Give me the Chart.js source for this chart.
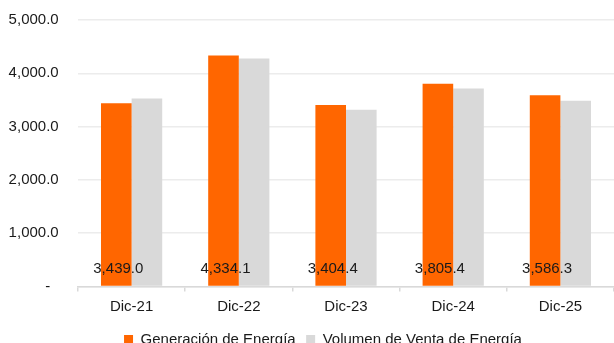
<!DOCTYPE html>
<html>
<head>
<meta charset="utf-8">
<script src="https://cdn.jsdelivr.net/npm/chart.js@4/dist/chart.umd.min.js"></script>
<style>
  html, body { margin: 0; padding: 0; background: #fff; overflow: hidden; }
  .clip { width: 614px; height: 343px; overflow: hidden; }
  .wrap { width: 614px; height: 357px; position: relative; }
</style>
</head>
<body>
<div class="clip"><div class="wrap"><canvas id="chart"></canvas></div></div>
<script>
const categories = ["Dic-21", "Dic-22", "Dic-23", "Dic-24", "Dic-25"]
const generacion = [3439.0, 4334.1, 3404.4, 3805.4, 3586.3]
const ventas = [3527, 4278, 3315, 3715, 3484]

const fmt = (v) => v.toLocaleString("en-US", { minimumFractionDigits: 1, maximumFractionDigits: 1 })

// values of the first series written near the bottom of its bars
const baseLabels = {
	id: "baseLabels",
	afterDatasetsDraw(chart) {
		const c = chart.ctx
		const meta = chart.getDatasetMeta(0)
		c.save()
		c.font = "15px 'Liberation Sans', Arial, sans-serif"
		c.fillStyle = "#1a1a1a"
		c.textAlign = "center"
		c.textBaseline = "middle"
		meta.data.forEach((bar, i) => {
			c.fillText(fmt(generacion[i]), bar.x + 2, bar.base - 17)
		})
		c.restore()
	},
}

// legend sits a bit right of the canvas centre in the original
const legendShift = {
	id: "legendShift",
	afterLayout(chart) {
		chart.legend.left += 13
		chart.legend.right += 13
	},
}

Chart.defaults.font.family = "'Liberation Sans', Arial, sans-serif"
Chart.defaults.font.size = 15
Chart.defaults.color = "#1a1a1a"

new Chart(document.getElementById("chart"), {
	type: "bar",
	data: {
		labels: categories,
		datasets: [
			{
				label: "Generación de Energía",
				data: generacion,
				backgroundColor: "#ff6600",
				categoryPercentage: 0.571,
				barPercentage: 1,
			},
			{
				label: "Volumen de Venta de Energía",
				data: ventas,
				backgroundColor: "#d9d9d9",
				categoryPercentage: 0.571,
				barPercentage: 1,
			},
		],
	},
	options: {
		responsive: true,
		maintainAspectRatio: false,
		animation: false,
		layout: { padding: { top: 5, right: 0, left: 6, bottom: 0 } },
		plugins: {
			tooltip: { enabled: false },
			legend: {
				position: "bottom",
				labels: { boxWidth: 9, boxHeight: 9, padding: 10.5, color: "#1a1a1a" },
			},
		},
		scales: {
			x: {
				grid: { display: true, drawOnChartArea: false, offset: true, tickLength: 5, color: "#d9d9d9", lineWidth: 1.5 },
				border: { display: true, color: "#d9d9d9", width: 1.5 },
				ticks: { padding: 6 },
			},
			y: {
				min: 0,
				max: 5000,
				afterFit: (s) => { s.width = 72 },
				ticks: {
					stepSize: 1000,
					padding: 11,
					// accounting style: trailing blanks, dash for zero
					callback: (v) => (v === 0 ? "-    " : fmt(v) + "  "),
				},
				grid: { color: "#ececec", lineWidth: 1.5, drawTicks: false },
				border: { display: false },
			},
		},
	},
	plugins: [baseLabels, legendShift],
})
</script>
</body>
</html>
